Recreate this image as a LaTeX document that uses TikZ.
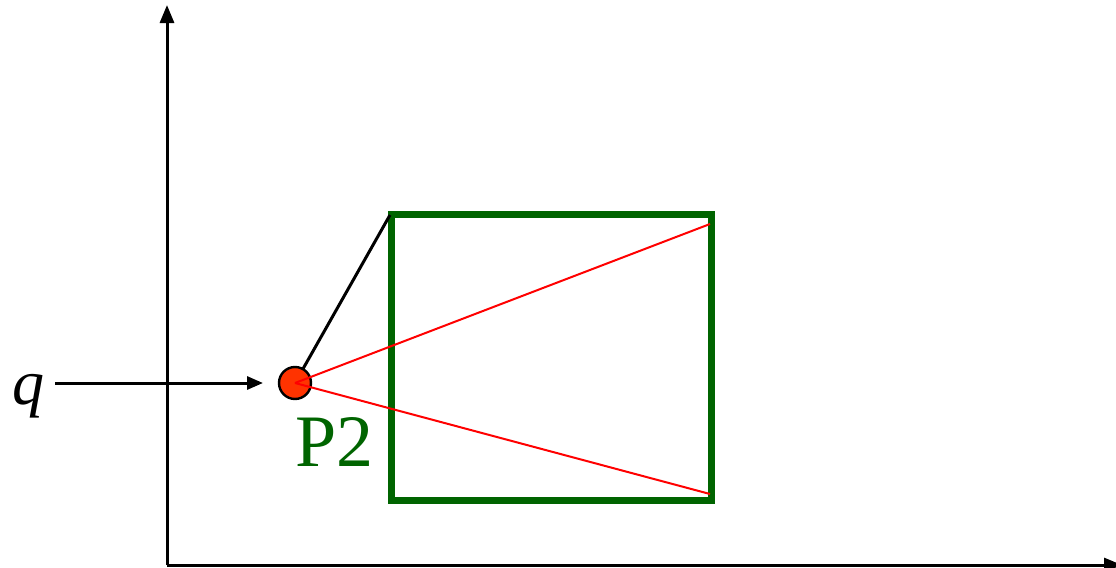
\documentclass[tikz,border=0pt]{standalone}
\usepackage{fontspec}
\setmainfont{Liberation Serif}
\usetikzlibrary{arrows.meta}
\definecolor{boxgreen}{RGB}{0,100,0}
\definecolor{ptred}{RGB}{255,51,0}
\tikzset{
  axis/.style={line width=1.5pt,-{Triangle[length=9pt,width=7pt]}},
  qarrow/.style={line width=1.5pt,-{Triangle[length=8pt,width=6.5pt]}},
  gbox/.style={draw=boxgreen,line width=3.5pt,minimum width=160pt,minimum height=143pt,inner sep=0pt},
  pt/.style={circle,draw=black,line width=1.2pt,fill=ptred,minimum size=16pt,inner sep=0pt},
  ray/.style={red,line width=1pt},
  link/.style={black,line width=1.5pt}
}
\begin{document}
\begin{tikzpicture}[x=0.5pt,y=-0.5pt]
\useasboundingbox (0,0) rectangle (1116,568);
\coordinate (o) at (167,565);
\coordinate (ytop) at (167,5);
\coordinate (xend) at (1122,565);
\draw[axis] (o) -- (ytop);
\draw[axis] (o) -- (xend);
\node[gbox] (box) at (551,357) {};
\coordinate (c) at (295,383);
\coordinate (rt) at (710,224);
\coordinate (rb) at (710,494);
\coordinate (bc) at (390,215);
\draw[link] (c) -- (bc);
\node[pt] (p) at (c) {};
\draw[ray] (p.center) -- (rt);
\draw[ray] (p.center) -- (rb);
\node[font=\itshape\fontsize{32}{32}\selectfont,anchor=base] (q) at (28,404) {q};
\coordinate (qs) at (55,383);
\coordinate (qe) at (263,383);
\draw[qarrow] (qs) -- (qe);
\node[font=\fontsize{37}{37}\selectfont,text=boxgreen,anchor=base west,inner sep=0pt] (lab) at (295,466) {P2};
\end{tikzpicture}
\end{document}
